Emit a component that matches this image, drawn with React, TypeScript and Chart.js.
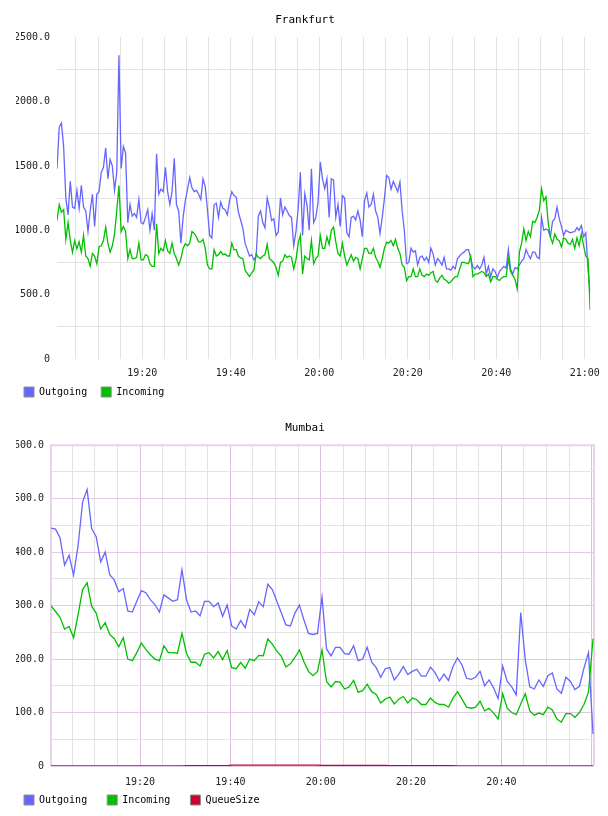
import React, { useEffect, useRef } from 'react';
import { Chart, registerables } from 'chart.js';

Chart.register(...registerables);

const MONO = '"DejaVu Sans Mono", monospace';
const BLUE = '#6666ff';
const GREEN = '#00c000';
const RED = '#cc0033';
const GRID_GREY = '#e3e3e3';
const GRID_PINK = '#e4c9e4';
const GRID_PINK_V = '#dcc0dc';

// Minutes after 19:00 of the first sample, the sampling interval and the axis end.
const FRA_START = 0.72;
const FRA_STEP = 0.5;
const FRA_END = 121.22;
const MUM_START = 0.28;
const MUM_STEP = 1;
const MUM_END = 120.5;

const fraOutgoing = [
  1478, 1800, 1833, 1650, 1250, 1120, 1380, 1180, 1170, 1310,
  1170, 1350, 1180, 1150, 990, 1150, 1280, 1030, 1280, 1300,
  1450, 1490, 1640, 1400, 1550, 1500, 1310, 1450, 2360, 1480,
  1650, 1600, 1060, 1200, 1110, 1130, 1100, 1240, 1060, 1050,
  1100, 1160, 1000, 1130, 1000, 1594, 1280, 1320, 1300, 1490,
  1300, 1200, 1300, 1560, 1200, 1150, 900, 1100, 1230, 1320,
  1410, 1330, 1300, 1310, 1280, 1240, 1400, 1340, 1160, 960,
  940, 1200, 1210, 1100, 1220, 1170, 1160, 1120, 1232, 1300,
  1270, 1258, 1140, 1080, 1015, 900, 850, 800, 810, 770,
  800, 1110, 1150, 1060, 1020, 1250, 1180, 1076, 1090, 960,
  986, 1250, 1120, 1180, 1150, 1115, 1100, 880, 990, 1167,
  1450, 960, 1284, 1193, 1000, 1478, 1060, 1100, 1219, 1530,
  1400, 1322, 1400, 1100, 1400, 1390, 1100, 1200, 1030, 1270,
  1250, 980, 950, 1100, 1110, 1080, 1150, 1080, 950, 1230,
  1290, 1180, 1200, 1280, 1150, 1100, 975, 1100, 1250, 1426,
  1410, 1320, 1380, 1340, 1300, 1374, 1150, 1000, 740, 750,
  860, 830, 840, 730, 790, 800, 765, 790, 750, 860,
  817, 730, 780, 760, 730, 790, 700, 700, 690, 720,
  700, 780, 800, 820, 830, 850, 850, 780, 713, 700,
  726, 700, 730, 790, 662, 720, 640, 700, 680, 636,
  680, 700, 720, 705, 850, 700, 660, 710, 700, 730,
  760, 780, 850, 810, 780, 830, 830, 790, 780, 1100,
  1000, 1010, 1000, 950, 1070, 1090, 1180, 1090, 1030, 960,
  1000, 990, 980, 985, 990, 1020, 1000, 1037, 950, 980,
  700, 518,
];

const fraIncoming = [
  1076, 1200, 1140, 1160, 930, 1060, 920, 830, 920, 856,
  910, 830, 960, 800, 780, 720, 820, 800, 740, 870,
  880, 920, 1025, 900, 830, 880, 970, 1150, 1348, 990,
  1030, 990, 780, 850, 780, 780, 790, 900, 770, 770,
  810, 800, 740, 720, 720, 1050, 820, 860, 840, 920,
  840, 820, 900, 820, 780, 730, 780, 860, 895, 880,
  900, 990, 975, 950, 910, 910, 930, 860, 730, 700,
  700, 850, 800, 810, 835, 810, 815, 800, 800, 900,
  850, 850, 800, 785, 780, 690, 665, 640, 670, 690,
  815, 790, 780, 800, 810, 890, 780, 765, 750, 713,
  650, 750, 760, 810, 790, 800, 790, 700, 770, 900,
  960, 660, 800, 780, 770, 920, 740, 780, 800, 960,
  860, 860, 950, 890, 1000, 1024, 910, 820, 800, 900,
  800, 730, 770, 810, 760, 790, 780, 700, 780, 860,
  860, 820, 820, 860, 790, 760, 713, 780, 860, 908,
  900, 921, 880, 930, 860, 820, 730, 713, 609, 640,
  640, 700, 640, 640, 700, 650, 640, 660, 650, 670,
  680, 610, 597, 630, 650, 620, 610, 590, 600, 620,
  640, 640, 700, 750, 750, 745, 740, 800, 640, 660,
  660, 670, 680, 670, 640, 660, 600, 640, 640, 620,
  610, 630, 640, 640, 780, 680, 650, 620, 545, 830,
  900, 1011, 921, 990, 950, 1070, 1060, 1100, 1154, 1322,
  1230, 1260, 1060, 947, 900, 970, 930, 920, 870, 940,
  930, 900, 890, 930, 860, 940, 880, 973, 880, 800,
  780, 380,
];

const mumOutgoing = [
  445, 443, 427, 376, 394, 357, 412, 494, 517, 444,
  429, 382, 400, 358, 348, 326, 332, 290, 288, 308,
  328, 324, 311, 302, 288, 320, 314, 308, 311, 367,
  311, 288, 290, 281, 308, 308, 298, 305, 280, 301,
  262, 256, 272, 259, 293, 283, 307, 298, 340, 330,
  308, 286, 264, 262, 286, 301, 273, 248, 246, 248,
  316, 219, 206, 222, 222, 210, 209, 225, 197, 200,
  222, 194, 184, 166, 182, 184, 161, 172, 186, 171,
  177, 181, 168, 168, 185, 175, 159, 172, 160, 186,
  202, 189, 164, 162, 166, 177, 150, 161, 146, 126,
  187, 158, 148, 133, 287, 199, 148, 144, 161, 149,
  169, 174, 144, 136, 166, 158, 143, 149, 183, 212,
  60,
];

const mumIncoming = [
  300, 289, 278, 256, 261, 240, 283, 330, 343, 299,
  286, 256, 268, 246, 238, 223, 240, 200, 197, 212,
  230, 218, 208, 200, 197, 225, 212, 212, 211, 248,
  211, 194, 194, 187, 209, 212, 202, 214, 199, 216,
  184, 182, 194, 183, 200, 197, 207, 206, 238, 228,
  215, 205, 185, 191, 203, 217, 195, 177, 169, 177,
  217, 158, 148, 158, 157, 144, 148, 160, 138, 141,
  153, 139, 134, 118, 125, 129, 116, 125, 130, 118,
  127, 124, 115, 115, 127, 119, 115, 115, 110, 127,
  139, 125, 110, 108, 110, 121, 103, 108, 99, 88,
  135, 108, 100, 96, 116, 135, 103, 95, 99, 96,
  110, 105, 88, 82, 98, 98, 91, 100, 115, 138,
  238,
];

const mumQueue = [
  0, 0, 0, 0, 0, 0, 0, 0, 0, 0,
  0, 0, 0, 0, 0, 0, 0, 0, 0, 0,
  0, 0, 0, 0, 0, 0, 0, 0, 0, 0,
  0.5, 0.5, 0.5, 0.5, 0.5, 0.5, 0.5, 0.5, 0.5, 0.5,
  1.5, 1.5, 1.5, 1.5, 1.5, 1.5, 1.5, 1.5, 1.5, 1.5,
  1.5, 1.5, 1.5, 1.5, 1.5, 1.5, 1.5, 1.5, 1.5, 1.5,
  1, 1, 1, 1, 1, 1, 1, 1, 1, 1,
  1, 1, 1, 1, 1, 0.5, 0.5, 0.5, 0.5, 0.5,
  0.5, 0.5, 0.5, 0.5, 0.5, 0.5, 0.5, 0.5, 0.5, 0.5,
  0, 0, 0, 0, 0, 0, 0, 0, 0, 0,
  0, 0, 0, 0, 0, 0, 0, 0, 0, 0,
  0, 0, 0, 0, 0, 0, 0, 0, 0, 0,
  0,
];

type Pt = { x: number; y: number };

function series(values: number[], start: number, step: number): Pt[] {
  return values.map((v, i) => ({ x: start + i * step, y: v }));
}

function isMultiple(v: number, m: number): boolean {
  return Math.abs(v / m - Math.round(v / m)) < 1e-6;
}

function clock(t: number): string {
  const total = Math.round(t);
  const h = 19 + Math.floor(total / 60);
  const m = total % 60;
  return `${h}:${String(m).padStart(2, '0')}`;
}

// Pink frame around the Mumbai plot area.
const plotFrame = {
  id: 'plotFrame',
  beforeDatasetsDraw(chart: any) {
    const { ctx, chartArea: a } = chart;
    ctx.save();
    ctx.strokeStyle = '#e8d2e8';
    ctx.lineWidth = 2;
    ctx.beginPath();
    ctx.moveTo(a.left, a.bottom);
    ctx.lineTo(a.left, a.top);
    ctx.lineTo(a.right, a.top);
    ctx.lineTo(a.right, a.bottom);
    ctx.stroke();
    ctx.restore();
  },
};

type Spec = {
  title: string;
  datasets: { label: string; color: string; data: Pt[]; order: number }[];
  xMin: number;
  xMax: number;
  lastTimeLabel: number;
  yMax: number;
  yStep: number;
  yLabelEvery: number;
  pink: boolean;
  padLeft: number;
  legendGap: string;
  yAxisWidth: number;
  xAxisHeight: number;
  xLabelPad: number;
};

function buildConfig(s: Spec): any {
  return {
    type: 'line',
    data: {
      datasets: s.datasets.map((d) => ({
        label: d.label,
        data: d.data,
        borderColor: d.color,
        backgroundColor: d.color,
        borderWidth: 1.3,
        pointRadius: 0,
        tension: 0,
        fill: false,
        order: d.order,
      })),
    },
    plugins: s.pink ? [plotFrame] : [],
    options: {
      responsive: false,
      animation: false,
      events: [],
      layout: { padding: { left: s.padLeft, right: 14, top: 0, bottom: 1 } },
      plugins: {
        title: {
          display: true,
          text: s.title,
          color: '#000',
          font: { family: MONO, size: 11, weight: 'normal' },
          padding: { top: 14, bottom: 10 },
        },
        legend: {
          display: true,
          position: 'bottom',
          align: 'start',
          labels: {
            boxWidth: 10,
            boxHeight: 10,
            padding: 8,
            color: '#000',
            font: { family: MONO, size: 10 },
            generateLabels: (chart: any) =>
              chart.data.datasets.map((ds: any, i: number) => ({
                text: ds.label + s.legendGap,
                fillStyle: ds.borderColor,
                strokeStyle: '#8c8c8c',
                lineWidth: 1,
                hidden: false,
                datasetIndex: i,
                fontColor: '#000',
              })),
          },
        },
        tooltip: { enabled: false },
      },
      scales: {
        x: {
          type: 'linear',
          min: s.xMin,
          max: s.xMax,
          afterFit: (scale: any) => {
            scale.height = s.xAxisHeight;
          },
          border: { display: false },
          grid: {
            drawTicks: false,
            lineWidth: 1,
            color: (ctx: any) => {
              const v = ctx.tick ? ctx.tick.value : 0;
              if (s.pink && isMultiple(v, 20)) return GRID_PINK_V;
              return GRID_GREY;
            },
          },
          ticks: {
            stepSize: 5,
            includeBounds: false,
            autoSkip: false,
            minRotation: 0,
            maxRotation: 0,
            padding: s.xLabelPad,
            color: '#222',
            font: { family: MONO, size: 10 },
            callback: (value: any) => {
              const v = Number(value);
              return isMultiple(v, 20) && v <= s.lastTimeLabel ? clock(v) : '';
            },
          },
        },
        y: {
          type: 'linear',
          min: 0,
          max: s.yMax,
          afterFit: (scale: any) => {
            scale.width = s.yAxisWidth;
          },
          border: { display: false },
          grid: {
            drawTicks: false,
            lineWidth: 1,
            color: (ctx: any) => {
              const v = ctx.tick ? ctx.tick.value : 0;
              const labelled = isMultiple(v, s.yLabelEvery);
              if (s.pink) return labelled ? GRID_PINK : GRID_GREY;
              return labelled ? 'rgba(0,0,0,0)' : GRID_GREY;
            },
          },
          ticks: {
            stepSize: s.yStep,
            autoSkip: false,
            padding: 7,
            color: '#222',
            font: { family: MONO, size: 10 },
            callback: (value: any) => {
              const v = Number(value);
              if (!isMultiple(v, s.yLabelEvery)) return '';
              return v === 0 ? '0' : v.toFixed(1);
            },
          },
        },
      },
    },
  };
}

function LineChart({ spec, top }: { spec: Spec; top: number }) {
  const ref = useRef<HTMLCanvasElement | null>(null);
  useEffect(() => {
    if (!ref.current) return;
    const chart = new Chart(ref.current, buildConfig(spec));
    return () => chart.destroy();
  }, [spec]);
  return (
    <canvas
      ref={ref}
      width={608}
      height={408}
      style={{ position: 'absolute', left: 0, top, width: 608, height: 408 }}
    />
  );
}

const frankfurt: Spec = {
  title: 'Frankfurt',
  datasets: [
    { label: 'Outgoing', color: BLUE, data: series(fraOutgoing, FRA_START, FRA_STEP), order: 1 },
    { label: 'Incoming', color: GREEN, data: series(fraIncoming, FRA_START, FRA_STEP), order: 0 },
  ],
  xMin: FRA_START,
  xMax: FRA_END,
  lastTimeLabel: 120,
  yMax: 2500,
  yStep: 250,
  yLabelEvery: 500,
  pink: false,
  padLeft: 16,
  legendGap: ' ',
  yAxisWidth: 41,
  xAxisHeight: 20,
  xLabelPad: 8,
};

const mumbai: Spec = {
  title: 'Mumbai',
  datasets: [
    { label: 'Outgoing', color: BLUE, data: series(mumOutgoing, MUM_START, MUM_STEP), order: 2 },
    { label: 'Incoming', color: GREEN, data: series(mumIncoming, MUM_START, MUM_STEP), order: 1 },
    { label: 'QueueSize', color: RED, data: series(mumQueue, MUM_START, MUM_STEP), order: 0 },
  ],
  xMin: MUM_START,
  xMax: MUM_END,
  lastTimeLabel: 100,
  yMax: 600,
  yStep: 50,
  yLabelEvery: 100,
  pink: true,
  padLeft: 16,
  legendGap: '  ',
  yAxisWidth: 35,
  xAxisHeight: 21,
  xLabelPad: 10,
};

export default function App() {
  return (
    <div style={{ position: 'absolute', left: 0, top: 0, width: 608, height: 816, background: '#fff' }}>
      <LineChart spec={frankfurt} top={0} />
      <LineChart spec={mumbai} top={408} />
    </div>
  );
}
